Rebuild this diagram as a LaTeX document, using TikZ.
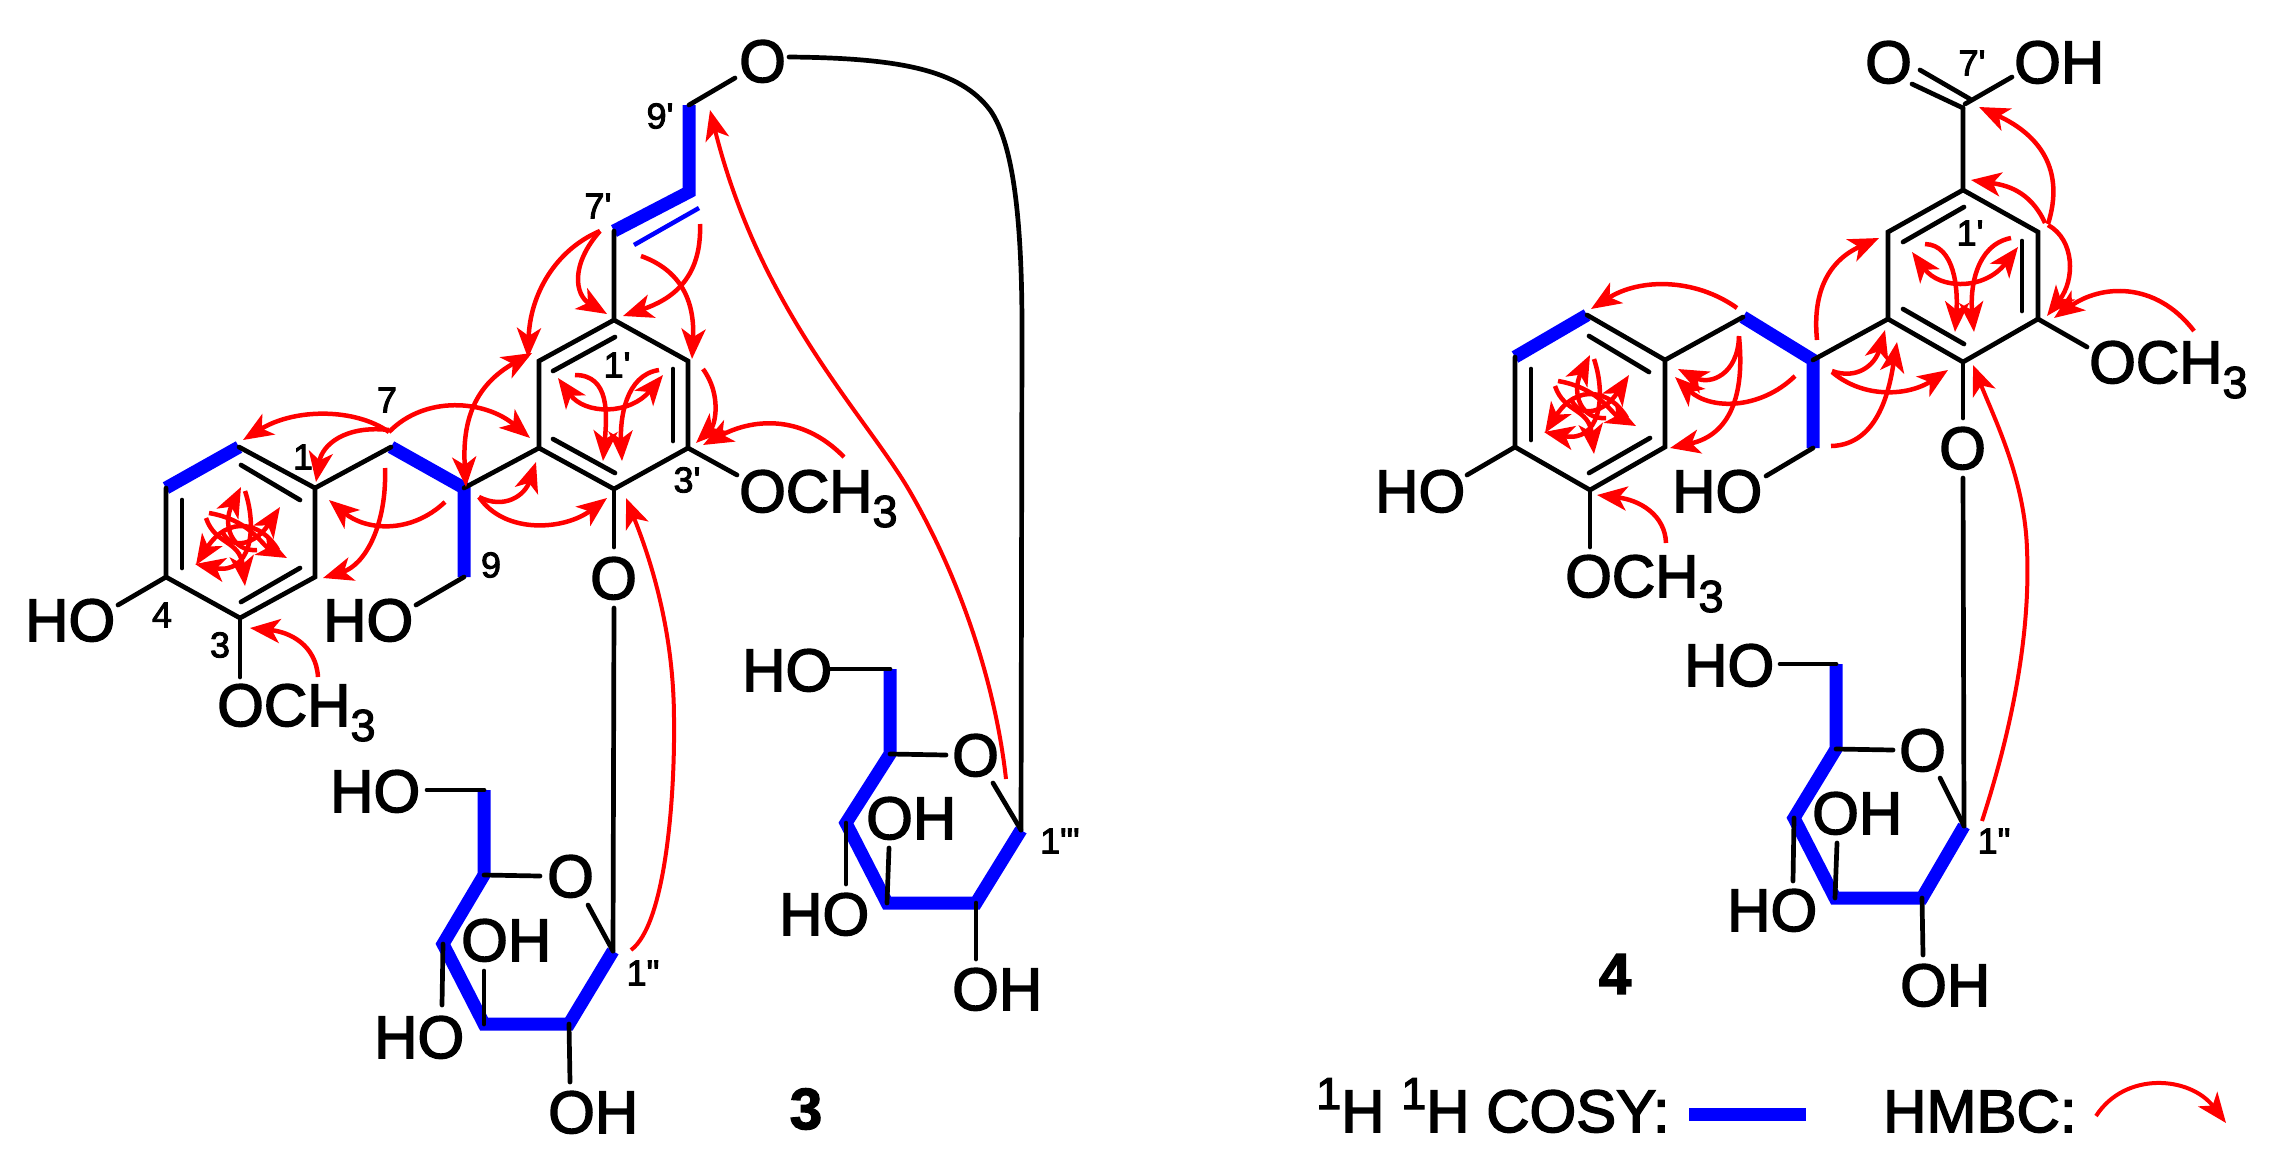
\documentclass[tikz,border=0pt]{standalone}
\usepackage{fontspec}
\usetikzlibrary{arrows.meta}
\newfontfamily\lib[FakeBold=2.5]{Liberation Sans}
\newcommand{\tri}{\raisebox{-15pt}{\fontsize{45}{45}\selectfont 3}}
\newcommand{\sone}{\raisebox{23pt}{\fontsize{45}{45}\selectfont 1}}
\newcommand{\tangle}[2]{%
\begin{scope}[shift={(#1,#2)}]
\draw[hmbc] (245,491) .. controls (258,530) and (250,575) .. (195,564);
\draw[hmbc] (209,513) .. controls (250,520) and (262,545) .. (287,558);
\draw[hmbc] (206,518) .. controls (215,545) and (240,540) .. (245,586);
\draw[hmbc] (278,550) .. controls (262,522) and (228,515) .. (196,565);
\draw[hmbc] (257,550) .. controls (232,552) and (222,525) .. (241,487);
\draw[hmbc] (223,533) .. controls (232,550) and (255,545) .. (280,507);
\end{scope}}
\tikzset{
  bond/.style={black,line width=4.7pt,line cap=round},
  cosy/.style={blue,line width=13pt,line join=miter},
  hmbc/.style={red,line width=4.5pt,-{Stealth[length=30pt,width=24pt,inset=8pt]}},
  hmbcb/.style={hmbc,{Stealth[length=30pt,width=24pt,inset=8pt]}-{Stealth[length=30pt,width=24pt,inset=8pt]}},
  thinr/.style={hmbc,line width=4pt},
  big/.style={inner sep=0pt,anchor=base west,font=\lib\fontsize{60}{60}\selectfont},
  num/.style={inner sep=0pt,anchor=center,font=\lib\fontsize{36}{36}\selectfont},
  cpd/.style={inner sep=0pt,anchor=center,font=\lib\bfseries\fontsize{58}{58}\selectfont}
}
\begin{document}
\begin{tikzpicture}[x=1pt,y=-1pt]
\useasboundingbox (0,0) rectangle (2277,1168);
\fill[white] (0,0) rectangle (2277,1168);
% ---------- compound 3 atoms
\coordinate (a1) at (315,488);\coordinate (a2) at (239,447);\coordinate (a6) at (166,488);
\coordinate (a4) at (166,577);\coordinate (a3) at (240,618);\coordinate (a5) at (315,577);
\coordinate (a7) at (391,447);\coordinate (a8) at (464,488);\coordinate (a9) at (464,577);
\coordinate (b1) at (614,320);\coordinate (b2) at (539,361);\coordinate (b3) at (539,448);
\coordinate (b4) at (614,489);\coordinate (b5) at (688,448);\coordinate (b6) at (688,361);
\coordinate (b7) at (614,231);\coordinate (b8) at (689,192);\coordinate (b9) at (689,105);
\coordinate (s1) at (613,951);\coordinate (s2) at (569,1024);\coordinate (s3) at (484,1024);
\coordinate (s4) at (443,944);\coordinate (s5) at (484,875);\coordinate (s6) at (484,790);
\coordinate (t1) at (1021,830);\coordinate (t2) at (976,903);\coordinate (t3) at (887,903);
\coordinate (t4) at (846,823);\coordinate (t5) at (890,754);\coordinate (t6) at (890,669);
% ---------- compound 4 atoms
\coordinate (c1) at (1665,360);\coordinate (c2) at (1587,315);\coordinate (c6) at (1515,357);
\coordinate (c4) at (1515,447);\coordinate (c3) at (1590,490);\coordinate (c5) at (1665,447);
\coordinate (c7) at (1743,317);\coordinate (c8) at (1813,360);\coordinate (c9) at (1813,448);
\coordinate (d1) at (1963,190);\coordinate (d2) at (1888,232);\coordinate (d3) at (1888,319);
\coordinate (d4) at (1963,362);\coordinate (d5) at (2038,319);\coordinate (d6) at (2038,232);
\coordinate (d7) at (1963,108);
\coordinate (u1) at (1964,826);\coordinate (u2) at (1922,898);\coordinate (u3) at (1835,898);
\coordinate (u4) at (1794,818);\coordinate (u5) at (1836,749);\coordinate (u6) at (1836,664);
% ---------- COSY
\draw[cosy] (a2)--(a6);
\draw[cosy] (a7)--(a8)--(a9);
\draw[cosy] (b7)--(b8)--(b9);
\draw[blue,line width=4.5pt] (634,245)--(699,208);
\draw[cosy] (s6)--(s5)--(s4)--(s3)--(s2)--(s1);
\draw[cosy] (t6)--(t5)--(t4)--(t3)--(t2)--(t1);
\draw[cosy] (c2)--(c6);
\draw[cosy] (c7)--(c8)--(c9);
\draw[cosy] (u6)--(u5)--(u4)--(u3)--(u2)--(u1);
\fill[blue] (1689,1108) rectangle (1806,1121);
% ---------- text
\node[big] (n1) at (25,641) {HO};
\node[big] (n2) at (323,641) {HO};
\node[big] (n3) at (217,726) {OCH\tri};
\node[big] (n4) at (739,82) {O};
\node[big] (n5) at (739,512) {OCH\tri};
\node[big] (n6) at (590,599) {O};
\node[big] (n7) at (330,812) {HO};
\node[big] (n8) at (547,897) {O};
\node[big] (n9) at (461,961) {OH};
\node[big] (n10) at (374,1058) {HO};
\node[big] (n11) at (548,1133) {OH};
\node[big] (n12) at (742,691) {HO};
\node[big] (n13) at (952,776) {O};
\node[big] (n14) at (866,839) {OH};
\node[big] (n15) at (779,935) {HO};
\node[big] (n16) at (952,1010) {OH};
\node[big] (n17) at (1865,83) {O};
\node[big] (n18) at (2014,83) {OH};
\node[big] (n19) at (2089,383) {OCH\tri};
\node[big] (n20) at (1939,469) {O};
\node[big] (n21) at (1375,512) {HO};
\node[big] (n22) at (1672,512) {HO};
\node[big] (n23) at (1565,597) {OCH\tri};
\node[big] (n24) at (1684,686) {HO};
\node[big] (n25) at (1899,771) {O};
\node[big] (n26) at (1812,834) {OH};
\node[big] (n27) at (1727,931) {HO};
\node[big] (n28) at (1900,1006) {OH};
\node[num] (l1) at (303,457) {1};
\node[num] (l2) at (387,400) {7};
\node[num] (l3) at (491,565) {9};
\node[num] (l4) at (162,615) {4};
\node[num] (l5) at (220,645) {3};
\node[num] (l6) at (660,116) {9'};
\node[num] (l7) at (598,206) {7'};
\node[num] (l8) at (617,365) {1'};
\node[num] (l9) at (687,480) {3'};
\node[num] (l10) at (643,973) {1"};
\node[num] (l11) at (1060,841) {1"'};
\node[num] (l12) at (1972,63) {7'};
\node[num] (l13) at (1970,233) {1'};
\node[num] (l14) at (1994,841) {1"};
\node[cpd] (k3) at (806,1109) {3};
\node[cpd] (k4) at (1615,974) {4};
\node[big] (leg1) at (1316,1132) {\sone H \sone H COSY:};
\node[big] (leg2) at (1883,1132) {HMBC:};
% ---------- bond ends at labels
\coordinate (e1) at (118,605);\coordinate (e2) at (416,605);\coordinate (e3) at (240,677);
\coordinate (e4) at (735,78);\coordinate (e5) at (789,57);\coordinate (e6) at (737,475);
\coordinate (e7) at (614,547);\coordinate (e8) at (614,608);
\coordinate (e9) at (427,790);\coordinate (e10) at (540,876);\coordinate (e11) at (588,905);
\coordinate (e12) at (570,1082);\coordinate (e13) at (442,1005);\coordinate (e14) at (484,971);
\coordinate (e15) at (830,669);\coordinate (e16) at (946,755);\coordinate (e17) at (993,783);
\coordinate (e18) at (976,959);\coordinate (e19) at (846,884);\coordinate (e20) at (889,848);
\coordinate (f1) at (1467,475);\coordinate (f2) at (1766,476);\coordinate (f3) at (1590,547);
\coordinate (f4) at (2087,347);\coordinate (f5) at (1963,418);\coordinate (f6) at (1963,478);
\coordinate (f7) at (1780,664);\coordinate (f8) at (1893,750);\coordinate (f9) at (1940,778);
\coordinate (f10) at (1923,955);\coordinate (f11) at (1793,881);\coordinate (f12) at (1837,843);
\coordinate (f13) at (2012,77);
% ---------- bonds compound 3
\draw[bond] (a1)--(a2); \draw[bond] (a6)--(a4)--(a3)--(a5)--(a1)--(a7);
\draw[bond] (a8)--(b3); \draw[bond] (a9)--(e2); \draw[bond] (a4)--(e1); \draw[bond] (a3)--(e3);
\draw[bond] (241,465)--(300,500); \draw[bond] (182,500)--(182,568); \draw[bond] (241,602)--(300,568);
\draw[bond] (b7)--(b1)--(b2)--(b3)--(b4)--(b5)--(b6)--(b1);
\draw[bond] (553,371)--(615,337); \draw[bond] (673,369)--(673,441); \draw[bond] (553,439)--(615,473);
\draw[bond] (b9)--(e4); \draw[bond] (b5)--(e6); \draw[bond] (b4)--(e7); \draw[bond] (e8)--(s1);
\draw[bond] (e5) .. controls (900,58) and (960,70) .. (990,110) .. controls (1015,145) and (1022,230) .. (1022,330) -- (t1);
\draw[bond] (s6)--(e9); \draw[bond] (s5)--(e10); \draw[bond] (e11)--(s1);
\draw[bond] (s2)--(e12); \draw[bond] (s4)--(e13); \draw[bond] (s3)--(e14);
\draw[bond] (t6)--(e15); \draw[bond] (t5)--(e16); \draw[bond] (e17)--(t1);
\draw[bond] (t2)--(e18); \draw[bond] (t4)--(e19); \draw[bond] (t3)--(e20);
% ---------- bonds compound 4
\draw[bond] (c1)--(c2); \draw[bond] (c6)--(c4)--(c3)--(c5)--(c1)--(c7);
\draw[bond] (c8)--(d3); \draw[bond] (c9)--(f2); \draw[bond] (c4)--(f1); \draw[bond] (c3)--(f3);
\draw[bond] (1589,336)--(1649,372); \draw[bond] (1531,369)--(1531,440); \draw[bond] (1589,473)--(1650,438);
\draw[bond] (d7)--(d1)--(d2)--(d3)--(d4)--(d5)--(d6)--(d1);
\draw[bond] (1903,242)--(1964,207); \draw[bond] (2022,241)--(2022,311); \draw[bond] (1903,309)--(1964,344);
\draw[bond] (1912,84)--(d7); \draw[bond] (1920,70)--(1970,99); \draw[bond] (1965,104)--(f13);
\draw[bond] (d5)--(f4); \draw[bond] (d4)--(f5); \draw[bond] (f6)--(u1);
\draw[bond] (u6)--(f7); \draw[bond] (u5)--(f8); \draw[bond] (f9)--(u1);
\draw[bond] (u2)--(f10); \draw[bond] (u4)--(f11); \draw[bond] (u3)--(f12);
% ---------- HMBC compound 3
\draw[hmbc] (389,432) .. controls (355,408) and (295,408) .. (243,440);
\draw[hmbc] (389,430) .. controls (345,425) and (322,445) .. (316,482);
\draw[hmbc] (389,432) .. controls (425,395) and (485,400) .. (530,438);
\draw[hmbcb] (466,487) .. controls (462,420) and (475,385) .. (532,353);
\draw[hmbc] (445,502) .. controls (410,535) and (365,530) .. (329,500);
\draw[hmbc] (385,468) .. controls (387,525) and (365,565) .. (323,578);
\draw[hmbc] (479,497) .. controls (505,510) and (525,495) .. (536,462);
\draw[hmbc] (479,497) .. controls (505,535) and (565,530) .. (607,498);
\draw[hmbc] (318,677) .. controls (316,645) and (290,632) .. (250,628);
\draw[hmbc] (600,231) .. controls (555,250) and (530,295) .. (528,358);
\draw[hmbc] (600,231) .. controls (570,265) and (575,295) .. (607,314);
\draw[hmbc] (700,224) .. controls (702,280) and (670,300) .. (623,316);
\draw[hmbc] (641,256) .. controls (680,270) and (695,300) .. (692,359);
\draw[hmbc] (703,369) .. controls (722,395) and (715,425) .. (696,443);
\draw[hmbc] (844,457) .. controls (800,412) and (750,420) .. (703,445);
\draw[hmbc] (575,375) .. controls (610,375) and (607,415) .. (603,461);
\draw[hmbc] (659,370) .. controls (625,375) and (620,420) .. (622,461);
\draw[hmbcb] (558,378) .. controls (585,415) and (630,415) .. (663,375);
\draw[thinr] (631,950) .. controls (665,925) and (675,800) .. (674,720) .. controls (674,640) and (655,570) .. (626,498);
\draw[thinr] (1006,779) .. controls (995,680) and (958,574) .. (909,490) .. controls (865,415) and (760,310) .. (710,110);
\tangle{0}{0}
% ---------- HMBC compound 4
\draw[hmbc] (2048,224) .. controls (2065,170) and (2040,135) .. (1979,107);
\draw[hmbc] (2045,223) .. controls (2030,190) and (2005,185) .. (1971,180);
\draw[hmbc] (2048,225) .. controls (2075,240) and (2075,280) .. (2047,316);
\draw[hmbc] (2194,331) .. controls (2155,280) and (2100,285) .. (2054,318);
\draw[thinr] (1982,821) .. controls (2018,710) and (2030,620) .. (2027,550) .. controls (2025,480) and (1995,420) .. (1973,365);
\draw[hmbc] (1737,308) .. controls (1695,278) and (1640,278) .. (1591,309);
\draw[hmbc] (1739,336) .. controls (1738,375) and (1710,385) .. (1678,369);
\draw[hmbc] (1795,376) .. controls (1760,410) and (1710,410) .. (1675,377);
\draw[hmbc] (1739,337) .. controls (1745,395) and (1730,435) .. (1670,448);
\draw[hmbc] (1817,340) .. controls (1812,290) and (1830,260) .. (1879,238);
\draw[hmbc] (1832,371) .. controls (1857,380) and (1875,365) .. (1885,330);
\draw[hmbc] (1832,372) .. controls (1865,400) and (1910,395) .. (1948,370);
\draw[hmbc] (1831,446) .. controls (1880,445) and (1890,385) .. (1897,342);
\draw[hmbc] (1925,244) .. controls (1955,245) and (1958,290) .. (1955,332);
\draw[hmbc] (2011,238) .. controls (1975,245) and (1970,290) .. (1974,332);
\draw[hmbcb] (1912,252) .. controls (1940,290) and (1985,290) .. (2018,247);
\draw[hmbc] (1666,543) .. controls (1665,515) and (1640,500) .. (1597,495);
\tangle{1349}{-132}
% ---------- legend arrow
\draw[thinr] (2096,1116) .. controls (2125,1071) and (2190,1076) .. (2226,1123);
\end{tikzpicture}
\end{document}
